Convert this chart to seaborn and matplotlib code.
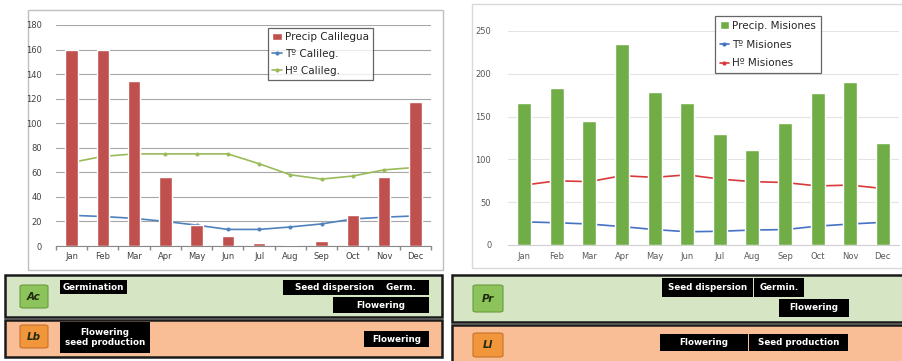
import numpy as np
import pandas as pd
import matplotlib
matplotlib.use("Agg")
import matplotlib.pyplot as plt
import seaborn as sns
from matplotlib.patches import Rectangle, Patch, FancyBboxPatch
from matplotlib.lines import Line2D

months = ["Jan", "Feb", "Mar", "Apr", "May", "Jun", "Jul", "Aug", "Sep", "Oct", "Nov", "Dec"]

precip_calilegua = [160, 160, 134, 56, 17, 8, 2.5, 1, 4, 25, 56, 117]
temp_calilegua = [25, 24, 22.5, 20, 17, 13.5, 13.5, 15.5, 18, 22, 23.5, 24.5]
hum_calilegua = [68, 73, 75, 75, 75, 75, 67, 58, 54.5, 57, 62, 64]

precip_misiones = [166, 183, 145, 235, 179, 166, 130, 111, 142, 178, 190, 119]
temp_misiones = [27, 26, 24.5, 21.5, 18, 15.5, 16, 17.5, 18, 22, 24.5, 26.5]
hum_misiones = [70, 75, 74, 81, 79, 82, 77, 74, 73, 69, 70, 66]

left_yticks = list(range(0, 181, 20))
right_yticks = list(range(0, 251, 50))

W, H = 903, 361
sns.set_theme(style="white")
plt.rcParams["font.family"] = ["DejaVu Sans"]

fig = plt.figure(figsize=(W / 100, H / 100), dpi=100)


def frect(x0, y0, x1, y1):
    return [x0 / W, 1 - y1 / H, (x1 - x0) / W, (y1 - y0) / H]


def add_rect(x0, y0, x1, y1, fc, ec="none", lw=0, z=0):
    r = Rectangle((x0 / W, 1 - y1 / H), (x1 - x0) / W, (y1 - y0) / H,
                  transform=fig.transFigure, facecolor=fc, edgecolor=ec,
                  linewidth=lw, zorder=z)
    fig.add_artist(r)
    return r


# chart frames
add_rect(28, 10, 443, 270, "white", "#BFBFBF", 1.0, z=0)
add_rect(472, 4, 903, 268, "white", "#D9D9D9", 1.0, z=0)

df_l = pd.DataFrame({"month": months, "precip": precip_calilegua,
                     "temp": temp_calilegua, "hum": hum_calilegua})
df_r = pd.DataFrame({"month": months, "precip": precip_misiones,
                     "temp": temp_misiones, "hum": hum_misiones})

tick_col = "#404040"

# ---------- left chart ----------
axl = fig.add_axes(frect(56, 25, 431, 246))
axl.set_zorder(2)
axl.patch.set_alpha(0)
sns.barplot(data=df_l, x="month", y="precip", color="#C0504D", width=0.4,
            saturation=1, ax=axl, zorder=3)
sns.pointplot(data=df_l, x="month", y="temp", color="#4F81BD", ax=axl,
              markers="o", markersize=2, linewidth=1.2)
sns.pointplot(data=df_l, x="month", y="hum", color="#9BBB59", ax=axl,
              markers="o", markersize=2, linewidth=1.2)
axl.set_ylim(0, 180)
axl.set_xlim(-0.5, 11.5)
axl.set_yticks(left_yticks)
axl.grid(axis="y", color="#A6A6A6", linewidth=0.8)
axl.set_axisbelow(True)
for s in ["top", "right", "left"]:
    axl.spines[s].set_visible(False)
axl.spines["bottom"].set_color("#888888")
axl.spines["bottom"].set_linewidth(0.8)
axl.set_xlabel("")
axl.set_ylabel("")
axl.tick_params(axis="both", labelsize=6, colors=tick_col, length=0, pad=4)
axl.tick_params(axis="y", pad=10)
axl.set_xticks(np.arange(-0.5, 12, 1), minor=True)
axl.tick_params(axis="x", which="minor", length=3, color="#888888", bottom=True)

hl = [Patch(facecolor="#C0504D", label="Precip Calilegua"),
      Line2D([], [], color="#4F81BD", marker="o", markersize=2, lw=1.2, label="Tº Calileg."),
      Line2D([], [], color="#9BBB59", marker="o", markersize=2, lw=1.2, label="Hº Calileg.")]
legl = fig.legend(handles=hl, loc="upper left", bbox_to_anchor=(268 / W, 1 - 28 / H),
                  fontsize=7.5, frameon=True, fancybox=False, edgecolor="#404040",
                  handlelength=0.9, handletextpad=0.3, borderpad=0.4,
                  labelspacing=0.65, borderaxespad=0)
legl.get_frame().set_linewidth(0.9)
legl.set_zorder(5)

# ---------- right chart ----------
axr = fig.add_axes(frect(508, 31, 899, 245))
axr.set_zorder(2)
axr.patch.set_alpha(0)
sns.barplot(data=df_r, x="month", y="precip", color="#70AD47", width=0.43,
            saturation=1, ax=axr, zorder=3)
sns.pointplot(data=df_r, x="month", y="temp", color="#4472C4", ax=axr,
              markers="o", markersize=2, linewidth=1.2)
sns.pointplot(data=df_r, x="month", y="hum", color="#D9393A", ax=axr,
              markers="o", markersize=2, linewidth=1.2)
axr.set_ylim(0, 250)
axr.set_xlim(-0.5, 11.5)
axr.set_yticks(right_yticks)
axr.grid(axis="y", color="#E3E3E3", linewidth=0.8)
axr.set_axisbelow(True)
for s in ["top", "right", "left"]:
    axr.spines[s].set_visible(False)
axr.spines["bottom"].set_color("#D0D0D0")
axr.spines["bottom"].set_linewidth(0.8)
axr.set_xlabel("")
axr.set_ylabel("")
axr.tick_params(axis="both", labelsize=6, colors="#595959", length=0, pad=5)
axr.tick_params(axis="y", pad=12)

hr = [Patch(facecolor="#70AD47", label="Precip. Misiones"),
      Line2D([], [], color="#4472C4", marker="o", markersize=2, lw=1.2, label="Tº Misiones"),
      Line2D([], [], color="#D9393A", marker="o", markersize=2, lw=1.2, label="Hº Misiones")]
legr = fig.legend(handles=hr, loc="upper left", bbox_to_anchor=(715 / W, 1 - 16 / H),
                  fontsize=7.5, frameon=True, fancybox=False, edgecolor="#404040",
                  handlelength=0.9, handletextpad=0.3, borderpad=0.45,
                  labelspacing=0.85, borderaxespad=0)
legr.get_frame().set_linewidth(0.9)
legr.set_zorder(5)

# ---------- phenology bands ----------
GREEN_BAND = "#D6E6C4"
ORANGE_BAND = "#F9BE96"
add_rect(5, 275, 442, 317, GREEN_BAND, "#1A1A1A", 1.8, z=1)
add_rect(5, 320, 442, 357, ORANGE_BAND, "#1A1A1A", 1.8, z=1)
add_rect(452, 275, 905, 322, GREEN_BAND, "#1A1A1A", 1.8, z=1)
add_rect(452, 325, 905, 362, ORANGE_BAND, "#1A1A1A", 1.8, z=1)


def badge(x0, y0, x1, y1, fc, ec, txt):
    p = FancyBboxPatch((x0 / W, 1 - y1 / H), (x1 - x0) / W, (y1 - y0) / H,
                       boxstyle="round,pad=0,rounding_size=0.004",
                       transform=fig.transFigure, facecolor=fc, edgecolor=ec,
                       linewidth=0.8, zorder=3)
    fig.add_artist(p)
    fig.text((x0 + x1) / 2 / W, 1 - (y0 + y1) / 2 / H, txt, ha="center", va="center",
             fontsize=7.5, fontweight="bold", fontstyle="italic", color="#1F2A10", zorder=4)


badge(20, 285, 48, 308, "#8CC35A", "#6A9A40", "Ac")
badge(20, 325, 48, 348, "#F2963C", "#C8702A", "Lb")
badge(473, 285, 503, 312, "#8CC35A", "#6A9A40", "Pr")
badge(473, 333, 503, 357, "#F2963C", "#C8702A", "Ll")


def label(x0, y0, x1, y1, txt, fs=6.3):
    add_rect(x0, y0, x1, y1, "black", z=3)
    fig.text((x0 + x1) / 2 / W, 1 - (y0 + y1) / 2 / H, txt, ha="center", va="center",
             fontsize=fs, fontweight="bold", color="white", zorder=4, linespacing=1.1)


label(60, 280, 127, 294, "Germination")
label(283, 280, 429, 295, "Seed dispersion    Germ.")
label(333, 297, 429, 313, "Flowering")
label(60, 322, 150, 353, "Flowering\nseed production")
label(364, 331, 429, 347, "Flowering")

label(662, 278, 753, 297, "Seed dispersion")
label(754, 278, 804, 297, "Germin.")
label(779, 299, 849, 317, "Flowering")
label(660, 334, 748, 351, "Flowering")
label(749, 334, 848, 351, "Seed production")

fig.savefig("out.png", dpi=100)
